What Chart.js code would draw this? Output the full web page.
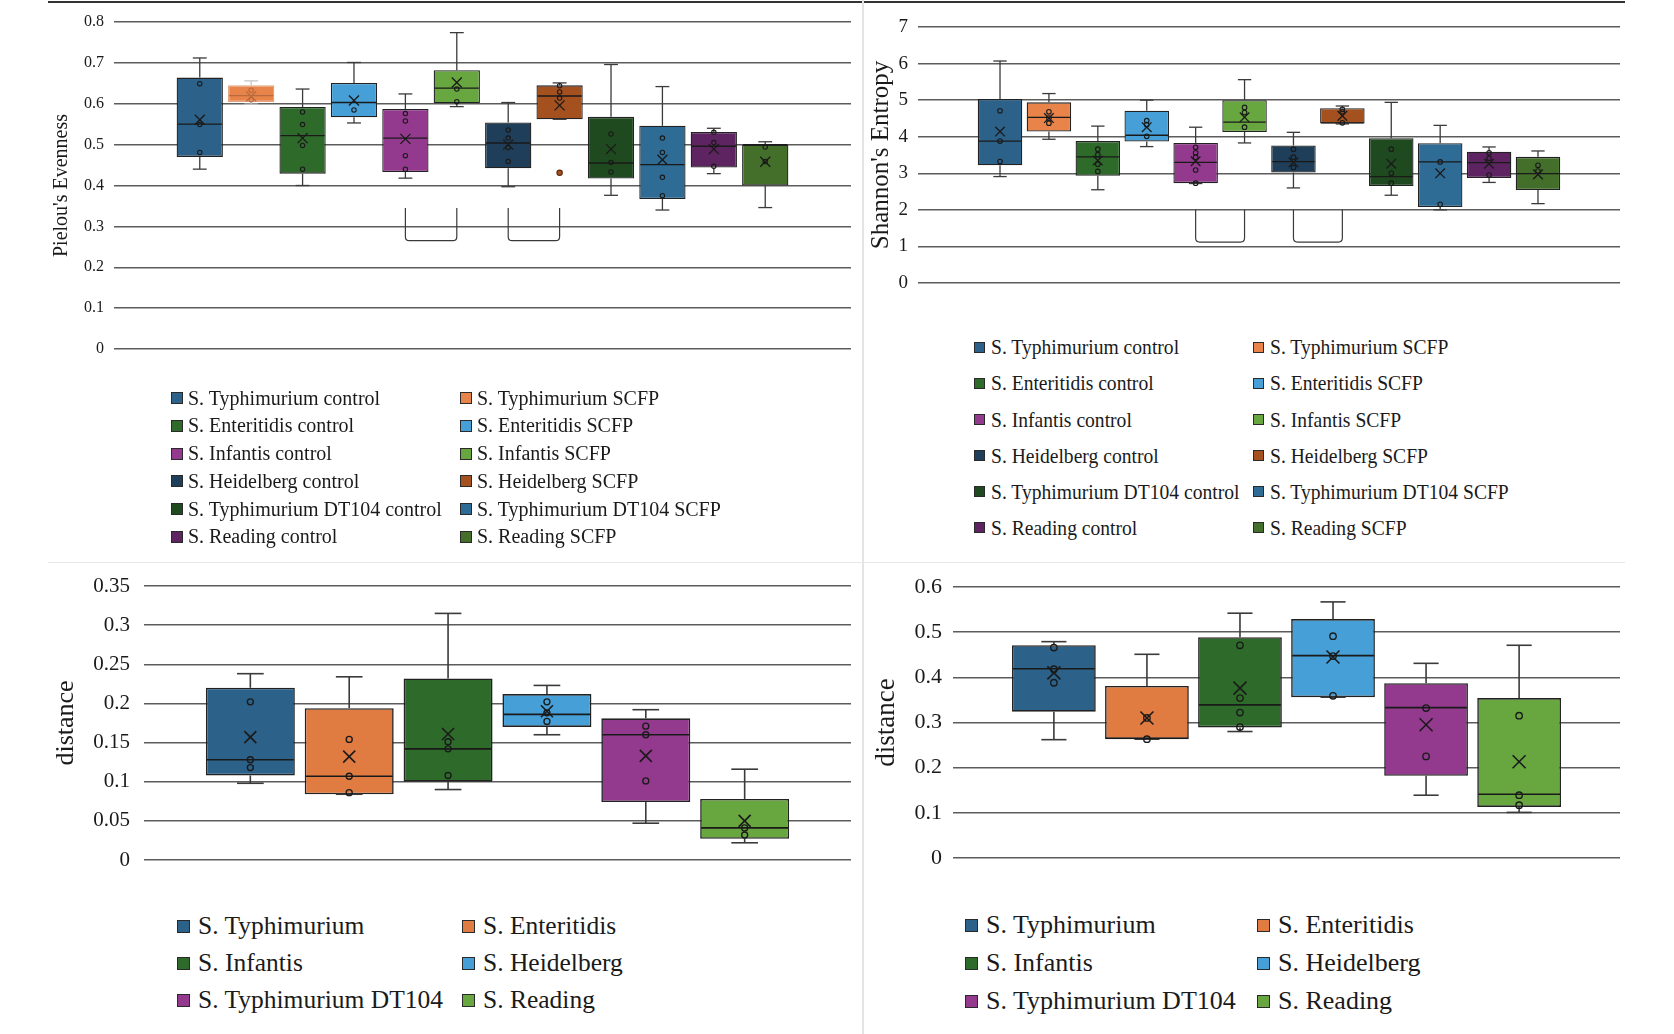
<!DOCTYPE html>
<html>
<head>
<meta charset="utf-8">
<script src="https://cdn.jsdelivr.net/npm/chart.js@4.4.1/dist/chart.umd.min.js"></script>
<style>
  html, body { margin: 0; padding: 0; background: #fff; }
  body { width: 1674px; height: 1034px; position: relative; overflow: hidden;
         font-family: 'Liberation Serif', 'Times New Roman', serif; color: #1a1a1a; }
  canvas { position: absolute; }
  .rule { position: absolute; }
  .leg { position: absolute; display: flex; align-items: center; white-space: nowrap; }
  .leg i { display: inline-block; box-sizing: border-box; border: 1px solid #2a2a2a; flex: none; }
  .leg span { display: inline-block; line-height: 1.15; transform-origin: left center; }
</style>
</head>
<body>
<div class="rule" style="left:48px;top:1px;width:1577px;height:2px;background:#333"></div>
<div class="rule" style="left:862px;top:0;width:2px;height:1034px;background:#e4e4e4"></div>
<div class="rule" style="left:48px;top:562px;width:1577px;height:1px;background:#e8e8e8"></div>

<canvas id="pielou" width="811" height="387" style="left:46px;top:-8px"></canvas>
<canvas id="shannon" width="764" height="316" style="left:862px;top:-3px"></canvas>
<canvas id="distA" width="810" height="334" style="left:47px;top:556px"></canvas>
<canvas id="distB" width="759" height="331" style="left:867px;top:557px"></canvas>

<script>
// ── Categories and colours ─────────────────────────────────────
const GROUP_LABELS = [
  'S. Typhimurium control', 'S. Typhimurium SCFP',
  'S. Enteritidis control', 'S. Enteritidis SCFP',
  'S. Infantis control', 'S. Infantis SCFP',
  'S. Heidelberg control', 'S. Heidelberg SCFP',
  'S. Typhimurium DT104 control', 'S. Typhimurium DT104 SCFP',
  'S. Reading control', 'S. Reading SCFP',
];
const GROUP_COLORS = [
  '#2c6189', '#e8834a', '#2e6b2b', '#46a0d7', '#933a8e', '#68a740',
  '#1e3e59', '#a4511f', '#1f4a1f', '#2e6b95', '#5d2461', '#436f2b',
];
const STRAIN_LABELS = [
  'S. Typhimurium', 'S. Enteritidis', 'S. Infantis',
  'S. Heidelberg', 'S. Typhimurium DT104', 'S. Reading',
];
const STRAIN_COLORS = ['#2c6189', '#e07b42', '#2e6b2b', '#46a0d7', '#933a8e', '#68a740'];

// significance brackets (pairs of box indices)
const SIG_PAIRS = [[4, 5], [6, 7]];

// ── Pielou's evenness (top left) ───────────────────────────────
const PIELOU_TICKS = [0, 0.1, 0.2, 0.3, 0.4, 0.5, 0.6, 0.7, 0.8];
const PIELOU_Q1   = [0.470, 0.604, 0.429, 0.567, 0.433, 0.601, 0.442, 0.562, 0.417, 0.367, 0.444, 0.400];
const PIELOU_Q3   = [0.664, 0.645, 0.592, 0.651, 0.587, 0.682, 0.554, 0.645, 0.568, 0.546, 0.531, 0.500];
const PIELOU_MED  = [0.550, 0.620, 0.522, 0.603, 0.516, 0.638, 0.504, 0.619, 0.455, 0.451, 0.496, 0.500];
const PIELOU_LOW  = [0.440, 0.599, 0.400, 0.553, 0.418, 0.593, 0.397, 0.562, 0.376, 0.340, 0.429, 0.346];
const PIELOU_HIGH = [0.712, 0.656, 0.636, 0.701, 0.624, 0.774, 0.603, 0.651, 0.696, 0.642, 0.540, 0.507];
const PIELOU_MEAN = [0.561, 0.618, 0.516, 0.608, 0.514, 0.652, 0.500, 0.596, 0.489, 0.463, 0.489, 0.458];
const PIELOU_POINTS = [
  [0.649, 0.549, 0.481], [0.633, 0.610], [0.580, 0.549, 0.498, 0.440], [0.585],
  [0.576, 0.558, 0.473, 0.440], [0.636, 0.605], [0.536, 0.516, 0.493, 0.459],
  [0.644, 0.629, 0.614], [0.526, 0.456, 0.433], [0.516, 0.481, 0.420, 0.375],
  [0.530, 0.505, 0.447], [0.494, 0.459],
];
const PIELOU_OUTLIERS = [[], [], [], [], [], [], [], [0.431], [], [], [], []];
const PIELOU_SIG = [0.345, 0.265];

// ── Shannon's entropy (top right) ──────────────────────────────
const SHANNON_TICKS = [0, 1, 2, 3, 4, 5, 6, 7];
const SHANNON_Q1   = [3.22, 4.14, 2.93, 3.87, 2.73, 4.13, 3.02, 4.36, 2.65, 2.08, 2.87, 2.54];
const SHANNON_Q3   = [5.03, 4.94, 3.88, 4.71, 3.83, 5.00, 3.76, 4.78, 3.96, 3.82, 3.59, 3.45];
const SHANNON_MED  = [3.88, 4.53, 3.45, 4.04, 3.30, 4.40, 3.32, 4.38, 2.91, 3.31, 3.29, 2.99];
const SHANNON_LOW  = [2.91, 3.93, 2.55, 3.73, 2.72, 3.83, 2.60, 4.35, 2.40, 2.00, 2.75, 2.17];
const SHANNON_HIGH = [6.07, 5.18, 4.29, 5.00, 4.26, 5.56, 4.12, 4.84, 4.94, 4.31, 3.72, 3.61];
const SHANNON_MEAN = [4.14, 4.51, 3.35, 4.26, 3.33, 4.53, 3.30, 4.57, 3.26, 3.00, 3.26, 2.97];
const SHANNON_POINTS = [
  [4.71, 3.88, 3.32], [4.68, 4.51, 4.37], [3.66, 3.51, 3.25, 3.05], [4.44, 4.33, 4.01],
  [3.71, 3.56, 3.44, 3.09, 2.73], [4.80, 4.66, 4.26], [3.66, 3.44, 3.16],
  [4.75, 4.68, 4.38], [3.66, 3.00, 2.73], [3.31, 2.15], [3.56, 3.41, 2.95], [3.22, 3.06],
];
const SHANNON_SIG = [2.0, 1.12];

// ── Distance, bottom left ──────────────────────────────────────
const DIST_A_TICKS = [0, 0.05, 0.1, 0.15, 0.2, 0.25, 0.3, 0.35];
const DIST_A_Q1   = [0.108, 0.084, 0.100, 0.170, 0.074, 0.027];
const DIST_A_Q3   = [0.220, 0.194, 0.232, 0.212, 0.181, 0.078];
const DIST_A_MED  = [0.128, 0.107, 0.142, 0.186, 0.160, 0.041];
const DIST_A_LOW  = [0.098, 0.084, 0.090, 0.160, 0.047, 0.022];
const DIST_A_HIGH = [0.238, 0.234, 0.315, 0.223, 0.192, 0.116];
const DIST_A_MEAN = [0.157, 0.132, 0.161, 0.190, 0.133, 0.050];
const DIST_A_POINTS = [
  [0.202, 0.128, 0.118], [0.154, 0.107, 0.086], [0.151, 0.142, 0.108],
  [0.202, 0.188, 0.177], [0.171, 0.160, 0.101], [0.041, 0.032],
];

// ── Distance, bottom right ─────────────────────────────────────
const DIST_B_TICKS = [0, 0.1, 0.2, 0.3, 0.4, 0.5, 0.6];
const DIST_B_Q1   = [0.324, 0.263, 0.289, 0.356, 0.182, 0.113];
const DIST_B_Q3   = [0.471, 0.381, 0.489, 0.529, 0.387, 0.354];
const DIST_B_MED  = [0.419, 0.265, 0.339, 0.448, 0.333, 0.141];
const DIST_B_LOW  = [0.262, 0.263, 0.280, 0.356, 0.139, 0.101];
const DIST_B_HIGH = [0.479, 0.451, 0.542, 0.567, 0.431, 0.471];
const DIST_B_MEAN = [0.410, 0.310, 0.376, 0.445, 0.295, 0.213];
const DIST_B_POINTS = [
  [0.466, 0.418, 0.388], [0.310, 0.263], [0.471, 0.354, 0.322, 0.290],
  [0.491, 0.447, 0.359], [0.332, 0.225], [0.315, 0.139, 0.117],
];

Chart.defaults.font.family = "'Liberation Serif', 'Times New Roman', serif";
Chart.defaults.color = '#1a1a1a';

// ── Whiskers, medians, means, points, brackets ─────────────────
function boxExtras(s) {
  return {
    id: 'boxExtras',
    afterDatasetsDraw(chart) {
      const ctx = chart.ctx;
      const ys = chart.scales.y;
      const py = v => ys.getPixelForValue(v);
      const bar = i => chart.getDatasetMeta(i).data[0];
      const seg = (x1, y1, x2, y2) => {
        ctx.beginPath(); ctx.moveTo(x1, y1); ctx.lineTo(x2, y2); ctx.stroke();
      };
      ctx.save();
      chart.data.datasets.forEach((ds, i) => {
        const b = bar(i);
        const x = b.x, half = b.width / 2, cap = b.width * 0.15;
        const faded = s.faded && s.faded.includes(i);

        // whiskers + caps
        ctx.lineWidth = s.lw;
        ctx.strokeStyle = faded ? '#c4c4c4' : s.whisker;
        [[s.q3[i], s.hi[i]], [s.q1[i], s.lo[i]]].forEach(([from, to]) => {
          if (Math.abs(to - from) > 1e-9) seg(x, py(from), x, py(to));
          seg(x - cap, py(to), x + cap, py(to));
        });

        // median
        ctx.strokeStyle = faded ? '#b86a3e' : s.ink;
        seg(x - half + 1, py(s.med[i]), x + half - 1, py(s.med[i]));

        // mean (x marker)
        const my = py(s.mean[i]), m = s.mark;
        seg(x - m, my - m, x + m, my + m);
        seg(x - m, my + m, x + m, my - m);

        // inner points
        ctx.lineWidth = s.lw * 0.85;
        s.pts[i].forEach(v => {
          ctx.beginPath(); ctx.arc(x, py(v), s.r, 0, Math.PI * 2); ctx.stroke();
        });

        // outliers
        (s.out ? s.out[i] : []).forEach(v => {
          ctx.fillStyle = ds.backgroundColor;
          ctx.beginPath(); ctx.arc(x, py(v), s.r + 0.5, 0, Math.PI * 2); ctx.fill();
          ctx.strokeStyle = '#5a2a10'; ctx.stroke();
        });
      });

      // significance brackets
      if (s.pairs) {
        ctx.strokeStyle = '#3a3a3a';
        ctx.lineWidth = 1.2;
        const yt = py(s.sig[0]), yb = py(s.sig[1]), r = 4;
        s.pairs.forEach(([a, c]) => {
          const xa = bar(a).x, xc = bar(c).x;
          ctx.beginPath();
          ctx.moveTo(xa, yt);
          ctx.lineTo(xa, yb - r);
          ctx.quadraticCurveTo(xa, yb, xa + r, yb);
          ctx.lineTo(xc - r, yb);
          ctx.quadraticCurveTo(xc, yb, xc, yb - r);
          ctx.lineTo(xc, yt);
          ctx.stroke();
        });
      }
      ctx.restore();
    },
  };
}

function boxChart(id, c) {
  const datasets = c.q1.map((lo, i) => ({
    label: c.labels[i],
    data: [[lo, c.q3[i]]],
    backgroundColor: c.colors[i],
    borderColor: (c.faded && c.faded.includes(i)) ? '#e2a47c' : '#222',
    borderWidth: c.bw,
    borderSkipped: false,
    categoryPercentage: c.catPct,
    barPercentage: c.barPct,
  }));
  return new Chart(document.getElementById(id), {
    type: 'bar',
    data: { labels: [''], datasets },
    options: {
      responsive: false,
      animation: false,
      events: [],
      layout: { padding: { top: 30, bottom: 30, left: 0, right: 6 } },
      plugins: { legend: { display: false }, tooltip: { enabled: false } },
      scales: {
        x: { display: false },
        y: {
          min: c.ticks[0],
          max: c.ticks[c.ticks.length - 1],
          afterBuildTicks: sc => { sc.ticks = c.ticks.map(v => ({ value: v })); },
          afterFit: sc => { sc.width = c.axisW; },
          ticks: {
            padding: c.tickPad,
            color: '#1a1a1a',
            font: { size: c.tickSize },
            callback: v => String(+(+v).toFixed(2)),
          },
          grid: { color: '#5c5c5c', lineWidth: 1.5, drawTicks: false },
          border: { display: false },
          title: {
            display: true,
            text: c.title,
            color: '#1a1a1a',
            font: { size: c.titleSize },
            padding: { top: 4, bottom: 4 },
          },
        },
      },
    },
    plugins: [boxExtras(c)],
  });
}

boxChart('pielou', {
  labels: GROUP_LABELS, colors: GROUP_COLORS, ticks: PIELOU_TICKS,
  q1: PIELOU_Q1, q3: PIELOU_Q3, med: PIELOU_MED, lo: PIELOU_LOW, hi: PIELOU_HIGH,
  mean: PIELOU_MEAN, pts: PIELOU_POINTS, out: PIELOU_OUTLIERS,
  pairs: SIG_PAIRS, sig: PIELOU_SIG, faded: [1],
  title: "Pielou's Evenness", titleSize: 20, tickSize: 16, tickPad: 10, axisW: 68,
  catPct: 0.837, barPct: 0.9, bw: 1.3, lw: 1.3, mark: 5, r: 2.2,
  whisker: '#3a3a3a', ink: '#1a1a1a',
});

boxChart('shannon', {
  labels: GROUP_LABELS, colors: GROUP_COLORS, ticks: SHANNON_TICKS,
  q1: SHANNON_Q1, q3: SHANNON_Q3, med: SHANNON_MED, lo: SHANNON_LOW, hi: SHANNON_HIGH,
  mean: SHANNON_MEAN, pts: SHANNON_POINTS,
  pairs: SIG_PAIRS, sig: SHANNON_SIG,
  title: "Shannon's Entropy", titleSize: 25, tickSize: 19, tickPad: 10, axisW: 56,
  catPct: 0.836, barPct: 0.91, bw: 1.3, lw: 1.3, mark: 4.8, r: 2.3,
  whisker: '#3a3a3a', ink: '#1a1a1a',
});

boxChart('distA', {
  labels: STRAIN_LABELS, colors: STRAIN_COLORS, ticks: DIST_A_TICKS,
  q1: DIST_A_Q1, q3: DIST_A_Q3, med: DIST_A_MED, lo: DIST_A_LOW, hi: DIST_A_HIGH,
  mean: DIST_A_MEAN, pts: DIST_A_POINTS,
  title: 'distance', titleSize: 26, tickSize: 21, tickPad: 14, axisW: 97,
  catPct: 0.839, barPct: 0.9, bw: 1.6, lw: 1.6, mark: 6, r: 3,
  whisker: '#3a3a3a', ink: '#1a1a1a',
});

boxChart('distB', {
  labels: STRAIN_LABELS, colors: STRAIN_COLORS, ticks: DIST_B_TICKS,
  q1: DIST_B_Q1, q3: DIST_B_Q3, med: DIST_B_MED, lo: DIST_B_LOW, hi: DIST_B_HIGH,
  mean: DIST_B_MEAN, pts: DIST_B_POINTS,
  title: 'distance', titleSize: 27, tickSize: 22, tickPad: 11, axisW: 86,
  catPct: 0.837, barPct: 0.9, bw: 1.6, lw: 1.6, mark: 6.5, r: 3.2,
  whisker: '#3a3a3a', ink: '#1a1a1a',
});

// ── Two-column legends (row-major, same order as the boxes) ────
function legend(labels, colors, o) {
  labels.forEach((text, k) => {
    const row = Math.floor(k / 2), col = k % 2;
    const el = document.createElement('div');
    el.className = 'leg';
    el.style.left = (col ? o.x2 : o.x1) + 'px';
    el.style.top = (o.y0 + row * o.dy - 20) + 'px';
    el.style.height = '40px';
    el.style.fontSize = o.font + 'px';
    const sq = document.createElement('i');
    sq.style.width = sq.style.height = o.sq + 'px';
    sq.style.background = colors[k];
    sq.style.marginRight = o.gap + 'px';
    const sp = document.createElement('span');
    sp.textContent = text;
    if (o.sx !== 1) sp.style.transform = 'scaleX(' + o.sx + ')';
    el.appendChild(sq);
    el.appendChild(sp);
    document.body.appendChild(el);
  });
}

legend(GROUP_LABELS, GROUP_COLORS,   { x1: 171, x2: 460,  y0: 398, dy: 27.75, sq: 12, gap: 5, font: 20, sx: 1 });
legend(GROUP_LABELS, GROUP_COLORS,   { x1: 974, x2: 1253, y0: 347, dy: 36.1,  sq: 11, gap: 6, font: 22, sx: 0.89 });
legend(STRAIN_LABELS, STRAIN_COLORS, { x1: 177, x2: 462,  y0: 926, dy: 37,    sq: 13, gap: 8, font: 25.5, sx: 1 });
legend(STRAIN_LABELS, STRAIN_COLORS, { x1: 965, x2: 1257, y0: 925, dy: 38,    sq: 13, gap: 8, font: 26, sx: 1 });
</script>
</body>
</html>
